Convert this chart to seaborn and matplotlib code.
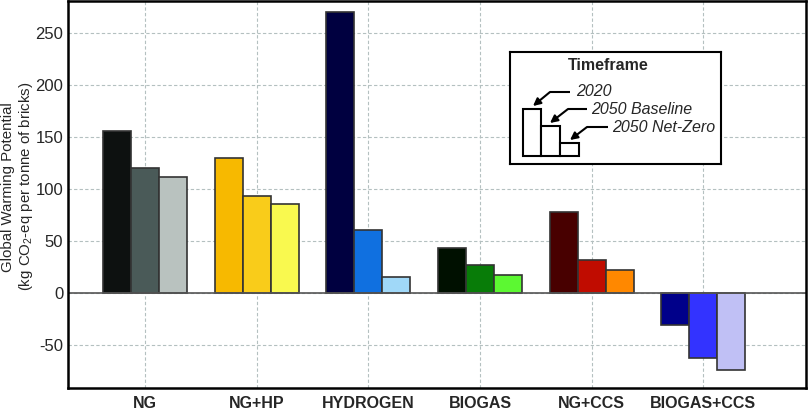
import pandas as pd
import matplotlib
matplotlib.use("Agg")
import matplotlib.pyplot as plt
import seaborn as sns

# Data
technologies = ["NG", "NG+HP", "HYDROGEN", "BIOGAS", "NG+CCS", "BIOGAS+CCS"]
timeframes = ["2020", "2050 Baseline", "2050 Net-Zero"]
gwp_2020 = [156, 130, 270, 44, 78, -30]
gwp_2050_baseline = [120, 94, 61, 27, 32, -62]
gwp_2050_netzero = [112, 86, 16, 18, 22, -74]

bar_colors = {
    "NG": ["#0d1110", "#4a5a58", "#b9c2bf"],
    "NG+HP": ["#f7b900", "#f9cc1a", "#f9f94f"],
    "HYDROGEN": ["#000040", "#1070e0", "#a0d8f8"],
    "BIOGAS": ["#001000", "#087c08", "#5cf832"],
    "NG+CCS": ["#480000", "#c00c00", "#ff8800"],
    "BIOGAS+CCS": ["#00008a", "#3333ff", "#c0c0f5"],
}

# legend sketch bar heights (relative)
legend_heights = [47, 30, 13]

df = pd.DataFrame({
    "technology": technologies * 3,
    "timeframe": [t for t in timeframes for _ in technologies],
    "gwp": gwp_2020 + gwp_2050_baseline + gwp_2050_netzero,
})

sns.set_style("white")
plt.rcParams["font.family"] = ["Liberation Sans", "DejaVu Sans"]
plt.rcParams["mathtext.default"] = "regular"
plt.rcParams["axes.unicode_minus"] = False

fig = plt.figure(figsize=(8.1, 4.11), dpi=100)
ax = fig.add_axes([68 / 810, 1 - 388 / 411, 738 / 810, 387 / 411])

sns.barplot(data=df, x="technology", y="gwp", hue="timeframe",
            order=technologies, hue_order=timeframes, width=0.75,
            edgecolor="#333333", linewidth=1.2, legend=False, ax=ax)

# recolour every bar individually
for k, cont in enumerate(ax.containers):
    for j, bar in enumerate(cont):
        bar.set_facecolor(bar_colors[technologies[j]][k])

ax.axhline(0, color="#555555", lw=1.2, zorder=1)
ax.set_ylim(-91, 281)
ax.set_xlim(-0.69, 5.92)
ax.set_yticks([-50, 0, 50, 100, 150, 200, 250])
ax.set_axisbelow(True)
ax.grid(True, color="#b4c0c0", linestyle=(0, (3, 2)), linewidth=0.8)
for s in ax.spines.values():
    s.set_linewidth(1.8)
    s.set_color("black")
ax.tick_params(axis="both", direction="in", length=4, width=1, labelsize=12)
ax.tick_params(axis="x", pad=6, labelsize=11.5)
for lbl in ax.get_xticklabels():
    lbl.set_fontweight("bold")
ax.set_xlabel("")
ax.set_ylabel("Global Warming Potential\n(kg CO$_2$-eq per tonne of bricks)",
              fontsize=10.8, linespacing=1.15)
ax.yaxis.set_label_coords(-0.045, 0.52)

# Timeframe legend sketch
ax_in = fig.add_axes([510 / 810, 1 - 164 / 411, 211 / 810, 112 / 411])
ax_in.set_xlim(0, 211)
ax_in.set_ylim(0, 112)
ax_in.set_xticks([])
ax_in.set_yticks([])
for s in ax_in.spines.values():
    s.set_linewidth(1.5)
    s.set_color("black")
ax_in.bar([22, 40.5, 59.5], legend_heights, width=18.5, bottom=8,
          color="white", edgecolor="black", linewidth=1.5)
ax_in.text(98, 99, "Timeframe", fontsize=11.5, fontweight="bold",
           ha="center", va="center")

arrows = [((60, 72), (40, 72), (23, 58), (66, 72), "2020"),
          ((77, 55), (58, 55), (40, 41), (81, 54), "2050 Baseline"),
          ((98, 37), (77, 37), (60, 24), (102, 36), "2050 Net-Zero")]
for start, corner, tip, txt_pos, label in arrows:
    ax_in.plot([start[0], corner[0]], [start[1], corner[1]], color="black",
               lw=1.5, solid_capstyle="butt")
    ax_in.annotate("", xy=tip, xytext=corner,
                   arrowprops=dict(arrowstyle="-|>", color="black", lw=1.5,
                                   mutation_scale=11, shrinkA=0, shrinkB=0))
    ax_in.text(txt_pos[0], txt_pos[1], label, fontsize=11.5, fontstyle="italic",
               ha="left", va="center")

fig.savefig("out.png", dpi=100)
